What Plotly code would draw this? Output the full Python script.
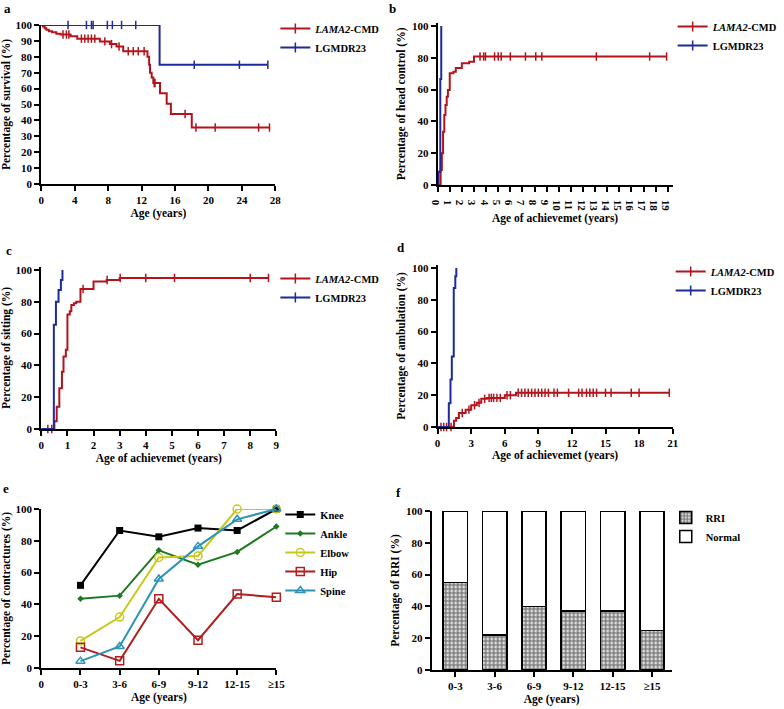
import plotly.graph_objects as go

W, H = 784, 709
FONT = "Liberation Serif"
RED = "#b3141c"
BLUE = "#1c2a9c"

# ---------------- data ----------------
# a: survival
a_lama_t = [0, 0.2, 0.4, 0.6, 0.9, 1.3, 1.8, 2.3, 3.5, 4.3, 7.0, 8.2, 9.0, 9.8, 12.7, 12.9, 13.0, 13.2, 13.4, 14.2, 15.0, 15.5, 18.0]
a_lama_s = [100, 99, 98, 97, 96, 95.5, 94.5, 94, 92.9, 91.4, 89.7, 88, 86.5, 83.5, 80, 75, 70, 67, 63.5, 57, 50.5, 44, 35.5]
a_lama_c = [2.6, 3.0, 3.3, 4.8, 5.2, 5.6, 6.0, 6.4, 7.6, 8.4, 9.3, 10.4, 11.0, 11.6, 12.3, 13.5, 13.6, 17.2, 18.5, 20.8, 26.0, 27.3]
a_lg_t = [0, 14.15]
a_lg_s = [100, 75]
a_lg_c = [3.2, 5.4, 6.0, 6.2, 7.9, 8.5, 9.6, 11.3, 18.3, 23.7, 27.1]

# b: head control
b_lama_t = [0, 0.25, 0.35, 0.45, 0.55, 0.65, 0.75, 0.85, 1.0, 1.3, 1.5, 2.0, 2.6, 3.0]
b_lama_s = [0, 9.4, 20, 33.5, 44, 50.3, 55.5, 59.7, 70.2, 71.2, 73.5, 76.5, 77.5, 80.8]
b_lama_c = [3.5, 3.8, 3.95, 4.7, 5.0, 5.25, 6.0, 7.25, 8.1, 8.6, 13.1, 17.5, 18.9]
b_lg_t = [0, 0.08, 0.22, 0.3]
b_lg_s = [0, 8.3, 66.7, 100]
b_lg_c = []

# c: sitting
c_lama_t = [0, 0.5, 0.59, 0.69, 0.79, 0.85, 0.94, 1.0, 1.09, 1.15, 1.25, 1.34, 1.5, 2.0, 2.5, 3.0]
c_lama_s = [0, 4.8, 14, 25.7, 36, 45.6, 49.8, 72, 74, 78, 79, 80, 88, 92.7, 93.7, 95]
c_lama_c = [0.25, 0.4, 1.6, 2.52, 3.02, 4.0, 5.1, 8.0, 8.7]
c_lg_t = [0, 0.48, 0.56, 0.66, 0.75, 0.81]
c_lg_s = [0, 65.5, 80, 87.4, 93.7, 100]
c_lg_c = []

# d: ambulation
d_lama_t = [0, 1.46, 1.65, 1.9, 2.5, 3.0, 3.5, 3.9, 4.4, 6.0, 7.0]
d_lama_s = [0, 4, 5.7, 8.8, 10.9, 13.7, 15.2, 17.7, 18.3, 20, 21.5]
d_lama_c = [0.3, 0.55, 0.8, 1.2, 2.2, 2.8, 3.3, 3.7, 4.2, 4.6, 4.8, 5.0, 5.3, 5.6, 6.2, 6.5,
            7.2, 7.5, 7.8, 8.1, 8.4, 8.7, 9.0, 9.3, 9.6, 9.9, 10.4, 10.7, 11.7, 12.6, 12.9,
            13.3, 13.6, 13.9, 14.2, 15.0, 15.5, 17.3, 18.0, 20.7]
d_lg_t = [0, 1.0, 1.15, 1.27, 1.44, 1.58, 1.67]
d_lg_s = [0, 15, 29.8, 44.4, 87.4, 94.8, 100]
d_lg_c = []

# e: contractures
e_groups = ["0-3", "3-6", "6-9", "9-12", "12-15", "≥15"]
e_pos = [1, 2, 3, 4, 5, 6]
e_knee = [52, 86.5, 82.5, 88, 86.5, 100]
e_ankle = [43.5, 45.5, 74, 65, 73, 89]
e_elbow = [17, 32, 69.5, 70.5, 100, 100]
e_hip = [13, 4.5, 43.5, 17.5, 46.5, 44.5]
e_spine = [4.3, 13.5, 56, 76.5, 93.5, 100]

# f: RRI
f_groups = ["0-3", "3-6", "6-9", "9-12", "12-15", "≥15"]
f_rri = [55, 22, 40, 37, 37, 25]
f_normal = [100 - v for v in f_rri]

# ---------------- helpers ----------------
def xd(a, b):
    return [a / W, b / W]

def yd(top, bottom):
    return [1 - bottom / H, 1 - top / H]

def km_path(times, vals, censors):
    end = max([times[-1]] + list(censors))
    xs = list(times) + [end]
    ys = list(vals) + [vals[-1]]
    cy = []
    for c in censors:
        v = vals[0]
        for t, s in zip(times, vals):
            if t <= c:
                v = s
        cy.append(v)
    return xs, ys, cy

fig = go.Figure()

def add_km(times, vals, censors, color, name, xa, ya, legend):
    xs, ys, cy = km_path(times, vals, censors)
    grp = name + legend
    fig.add_trace(go.Scatter(x=xs, y=ys, mode="lines", line=dict(color=color, width=2, shape="hv"),
                             xaxis=xa, yaxis=ya, showlegend=False, legendgroup=grp, hoverinfo="skip"))
    if censors:
        fig.add_trace(go.Scatter(x=censors, y=cy, mode="markers",
                                 marker=dict(symbol="line-ns", size=6, line=dict(color=color, width=1.5)),
                                 xaxis=xa, yaxis=ya, showlegend=False, legendgroup=grp, cliponaxis=False))
    fig.add_trace(go.Scatter(x=[None], y=[None], mode="lines+markers", name=name,
                             line=dict(color=color, width=2),
                             marker=dict(symbol="line-ns", size=7, line=dict(color=color, width=1.5)),
                             xaxis=xa, yaxis=ya, legend=legend, legendgroup=grp))

LAMA = "<i>LAMA2</i>-CMD"
add_km(a_lama_t, a_lama_s, a_lama_c, RED, LAMA, "x", "y", "legend")
add_km(a_lg_t, a_lg_s, a_lg_c, BLUE, "LGMDR23", "x", "y", "legend")
add_km(b_lama_t, b_lama_s, b_lama_c, RED, LAMA, "x2", "y2", "legend2")
add_km(b_lg_t, b_lg_s, b_lg_c, BLUE, "LGMDR23", "x2", "y2", "legend2")
add_km(c_lama_t, c_lama_s, c_lama_c, RED, LAMA, "x3", "y3", "legend3")
add_km(c_lg_t, c_lg_s, c_lg_c, BLUE, "LGMDR23", "x3", "y3", "legend3")
add_km(d_lama_t, d_lama_s, d_lama_c, RED, LAMA, "x4", "y4", "legend4")
add_km(d_lg_t, d_lg_s, d_lg_c, BLUE, "LGMDR23", "x4", "y4", "legend4")

# e
e_series = [
    ("Knee", e_knee, "black", dict(symbol="square", size=7, color="black")),
    ("Ankle", e_ankle, "#1d7a22", dict(symbol="diamond", size=5, color="#1d7a22")),
    ("Elbow", e_elbow, "#c9c91c", dict(symbol="circle-open", size=8, color="#c9c91c", line=dict(width=1.5))),
    ("Hip", e_hip, "#b01e1e", dict(symbol="square-open", size=8, color="#b01e1e", line=dict(width=1.5))),
    ("Spine", e_spine, "#2e93b4", dict(symbol="triangle-up-open", size=8, color="#2e93b4", line=dict(width=1.5))),
]
for name, vals, col, mk in e_series:
    fig.add_trace(go.Scatter(x=e_pos, y=vals, mode="lines+markers", name=name,
                             line=dict(color=col, width=2), marker=mk, cliponaxis=False,
                             xaxis="x5", yaxis="y5", legend="legend5", legendgroup=name))

# f
fig.add_trace(go.Bar(x=f_groups, y=f_rri, name="RRI", width=0.62, legendgroup="RRI",
                     marker=dict(color="white", line=dict(color="black", width=1.5),
                                 pattern=dict(shape=".", fgcolor="black", bgcolor="white", size=4, solidity=0.7)),
                     xaxis="x6", yaxis="y6", legend="legend6"))
fig.add_trace(go.Bar(x=f_groups, y=f_normal, name="Normal", width=0.62, legendgroup="Normal",
                     marker=dict(color="white", line=dict(color="black", width=1.5)),
                     xaxis="x6", yaxis="y6", legend="legend6"))

# ---------------- layout ----------------
tickfont = dict(family=FONT, size=11, color="black", weight="bold")
titlefont = dict(family=FONT, size=11.5, color="black", weight="bold")

def ax(domain, rng, anchor, title, dtick=None, standoff=4, **kw):
    d = dict(domain=domain, range=rng, anchor=anchor, showline=True, linecolor="black", linewidth=2,
             ticks="outside", ticklen=5, tickwidth=1.5, tickcolor="black", showgrid=False, zeroline=False,
             tickfont=tickfont, title=dict(text=title, font=titlefont, standoff=standoff), automargin=False)
    if dtick is not None:
        d["dtick"] = dtick
        d["tick0"] = 0
    d.update(kw)
    return d

layout = dict(
    width=W, height=H, margin=dict(l=0, r=0, t=0, b=0),
    paper_bgcolor="white", plot_bgcolor="white", barmode="stack",
    font=dict(family=FONT, color="black"),
    xaxis=ax(xd(42, 280), [0, 28], "y", "Age (years)", 4),
    yaxis=ax(yd(25, 184), [0, 100], "x", "Percentage of survival (%)", 10),
    xaxis2=ax(xd(445, 684), [0, 19.4], "y2", "Age of achievemet (years)", 1),
    yaxis2=ax(yd(22.8, 185), [0, 102], "x2", "Percentage of head control (%)", 20),
    xaxis3=ax(xd(42, 281), [0, 9], "y3", "Age of achievemet (years)", 1),
    yaxis3=ax(yd(266.8, 429), [0, 102], "x3", "Percentage of sitting (%)", 20),
    xaxis4=ax(xd(445, 684), [0, 21], "y4", "Age of achievemet (years)", 3, standoff=2),
    yaxis4=ax(yd(264.8, 427), [0, 102], "x4", "Percentage of ambulation (%)", 20),
    xaxis5=ax(xd(42, 281), [0, 6], "y5", "Age (years)", None,
              tickmode="array", tickvals=[0] + e_pos, ticktext=["0"] + e_groups),
    yaxis5=ax(yd(509, 668), [0, 100], "x5", "Percentage of contractures (%)", 20),
    xaxis6=ax(xd(439, 683), [-0.6, 5.5], "y6", "Age (years)", None, type="category"),
    yaxis6=ax(yd(511, 670), [0, 100], "x6", "Percentage of RRI (%)", 20),
)

legfont = dict(family=FONT, size=10.5, color="black", weight="bold")
def leg(x, top, gap=4):
    return dict(x=x / W, y=1 - top / H, xanchor="left", yanchor="top", font=legfont,
                itemwidth=30, bgcolor="rgba(0,0,0,0)", tracegroupgap=gap, traceorder="normal")

layout["legend"] = leg(280, 14)
layout["legend2"] = leg(684, 12)
layout["legend3"] = leg(280, 264)
layout["legend4"] = leg(682, 257)
layout["legend5"] = leg(285, 500, 3)
layout["legend6"] = leg(677, 503, 5)

fig.update_layout(**layout)

letters = [("a", 8, 9), ("b", 399, 9), ("c", 9, 250), ("d", 408, 247), ("e", 6, 488), ("f", 405, 492)]
for t, x, y in letters:
    fig.add_annotation(text=t, x=x / W, y=1 - y / H, xref="paper", yref="paper", showarrow=False,
                       xanchor="center", yanchor="middle",
                       font=dict(family=FONT, size=13, color="black", weight="bold"))

fig.write_html("out.html", config={"displayModeBar": False},
               post_script="document.body.style.margin='0';document.body.style.overflow='hidden';")
